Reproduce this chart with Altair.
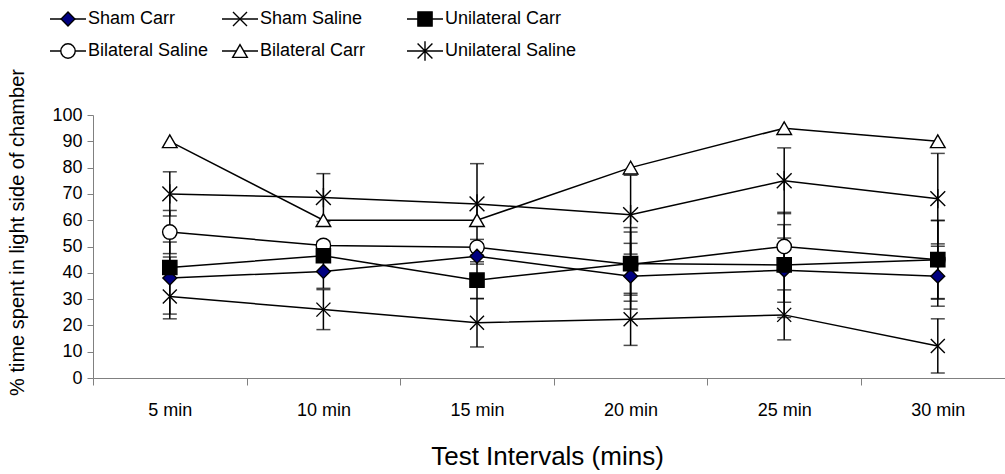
import altair as alt
import pandas as pd

# ---------------- data ----------------
times = ["5 min", "10 min", "15 min", "20 min", "25 min", "30 min"]
series = ["Sham Carr", "Sham Saline", "Unilateral Carr",
          "Bilateral Saline", "Bilateral Carr", "Unilateral Saline"]

sham_carr = [38, 40.5, 46.3, 38.7, 41, 38.7]
sham_carr_err = [13.7, 6.4, 3, 12.5, 12.2, 11.4]

sham_saline = [31, 26, 21, 22.3, 24, 12.2]
sham_saline_err = [8.5, 7.6, 9.2, 9.9, 9.5, 10.3]

uni_carr = [42, 46.5, 37.2, 43.5, 43, 45]
uni_carr_err = [4, 2, 7, 12, 20, 14.8]

bi_saline = [55.5, 50.4, 49.7, 43.2, 50, 45]
bi_saline_err = [8.2, 1.6, 3, 14, 8.3, 15]

bi_carr = [90, 60, 60, 80, 95, 90]
bi_carr_err = [0, 0, 0, 0, 0, 0]

uni_saline = [70, 68.6, 66.2, 62.1, 75, 68.2]
uni_saline_err = [8.4, 9.1, 15.3, 15, 12.5, 17.2]

means = [sham_carr, sham_saline, uni_carr, bi_saline, bi_carr, uni_saline]
errs = [sham_carr_err, sham_saline_err, uni_carr_err, bi_saline_err, bi_carr_err, uni_saline_err]

# drawing order of the markers (later = on top)
draw_order = ["Bilateral Saline", "Sham Carr", "Sham Saline",
              "Unilateral Carr", "Bilateral Carr", "Unilateral Saline"]

# ---------------- styles ----------------
X_PATH = "M-1,-1L1,1M-1,1L1,-1"
STAR_PATH = "M-1,-1L1,1M-1,1L1,-1M0,-1.3L0,1.3"
shapes = ["diamond", X_PATH, "square", "circle", "triangle-up", STAR_PATH]
fills = ["#000080", "white", "black", "white", "white", "white"]
sizes = [190, 220, 210, 160, 190, 110]
FONT = "Liberation Sans"

rows = []
for s, m, e in zip(series, means, errs):
    for t, v, ee in zip(times, m, e):
        rows.append({"series": s, "time": t, "mean": v, "err": ee,
                     "lo": v - ee, "hi": v + ee, "ord": draw_order.index(s)})
df = pd.DataFrame(rows)
pts_df = df.sort_values("ord", kind="stable")
err_df = df[df["err"] > 0]
cap_df = pd.concat([
    err_df[["series", "time", "lo"]].rename(columns={"lo": "cap"}),
    err_df[["series", "time", "hi"]].rename(columns={"hi": "cap"}),
])

# layout
PLOT_LEFT, PLOT_TOP = 93, 115
W, H = 912, 263
BAND = 153.6

xscale = alt.Scale(type="band", domain=times, range=[0, BAND * 6],
                   paddingInner=0, paddingOuter=0)
yscale = alt.Scale(domain=[0, 100], nice=False)

x_enc = alt.X("time:N", sort=times, scale=xscale, bandPosition=0.5,
              axis=alt.Axis(title="Test Intervals (mins)", tickBand="extent",
                            labelAngle=0, grid=False, domainColor="#808080",
                            tickColor="#808080", tickSize=7, labelPadding=16,
                            labelFontSize=18, labelColor="black",
                            titleFontSize=26, titleFontWeight="normal",
                            titleColor="black", titleX=454, titleY=78,
                            titleBaseline="middle", titleAlign="center"))
y_axis = alt.Axis(title="% time spent in light side of chamber",
                  values=list(range(0, 101, 10)), grid=False, labelOverlap=False,
                  domainColor="#808080", tickColor="#808080", tickSize=6,
                  labelPadding=5, labelFontSize=18, labelColor="black",
                  titleFontSize=20, titleFontWeight="normal", titleColor="black",
                  titleX=-76, titleY=117, titleAngle=-90,
                  titleBaseline="middle", titleAlign="center")

shape_enc = alt.Shape("series:N", scale=alt.Scale(domain=series, range=shapes), legend=None)
fill_enc = alt.Fill("series:N", scale=alt.Scale(domain=series, range=fills), legend=None)
size_enc = alt.Size("series:N", scale=alt.Scale(domain=series, range=sizes), legend=None)

err_rule = alt.Chart(err_df).mark_rule(color="black", strokeWidth=1.5).encode(
    x=x_enc, y=alt.Y("lo:Q", scale=yscale, axis=y_axis), y2="hi:Q")
caps = alt.Chart(cap_df).mark_tick(color="black", thickness=1.5, size=14).encode(
    x=x_enc, y=alt.Y("cap:Q", scale=yscale, axis=y_axis))
lines = alt.Chart(df).mark_line(color="black", strokeWidth=1.5).encode(
    x=x_enc, y=alt.Y("mean:Q", scale=yscale, axis=y_axis), detail="series:N")
points = alt.Chart(pts_df).mark_point(filled=True, stroke="black", strokeWidth=1.4,
                                      opacity=1).encode(
    x=x_enc, y=alt.Y("mean:Q", scale=yscale, axis=y_axis),
    shape=shape_enc, fill=fill_enc, size=size_enc,
    order=alt.Order("ord:Q"))

# ---------------- manual legend ----------------
col_x0 = [50, 222, 407]
row_y = [19, 51]
LINE_LEN = 36
leg_rows = []
for i, s in enumerate(series):
    c, r = i % 3, i // 3
    x0 = col_x0[c] - PLOT_LEFT
    y0 = row_y[r] - PLOT_TOP
    leg_rows.append({"series": s, "lx0": x0, "lx1": x0 + LINE_LEN,
                     "lxm": x0 + LINE_LEN / 2, "ltx": x0 + LINE_LEN + 2, "ly": y0})
leg = pd.DataFrame(leg_rows)

leg_line = alt.Chart(leg).mark_rule(color="black", strokeWidth=1.5).encode(
    x=alt.X("lx0:Q", scale=None, axis=None), x2="lx1:Q",
    y=alt.Y("ly:Q", scale=None, axis=None))
leg_pts = alt.Chart(leg).mark_point(filled=True, stroke="black", strokeWidth=1.4,
                                    opacity=1).encode(
    x=alt.X("lxm:Q", scale=None, axis=None),
    y=alt.Y("ly:Q", scale=None, axis=None),
    shape=shape_enc, fill=fill_enc, size=size_enc)
leg_txt = alt.Chart(leg).mark_text(align="left", baseline="middle", fontSize=18,
                                   font=FONT, color="black").encode(
    x=alt.X("ltx:Q", scale=None, axis=None),
    y=alt.Y("ly:Q", scale=None, axis=None), text="series:N")

plot = alt.layer(err_rule, caps, lines, points)
legend = alt.layer(leg_line, leg_pts, leg_txt)

chart = alt.layer(plot, legend).resolve_scale(x="independent", y="independent").properties(
    width=W, height=H,
    padding={"left": PLOT_LEFT, "top": PLOT_TOP, "right": 0, "bottom": 474 - PLOT_TOP - H},
    autosize=alt.AutoSizeParams(type="none"),
    background="white",
).configure_view(stroke=None).configure_axis(
    labelFont=FONT, titleFont=FONT
)

chart.save("out.html", embed_options={"renderer": "svg", "actions": False})
